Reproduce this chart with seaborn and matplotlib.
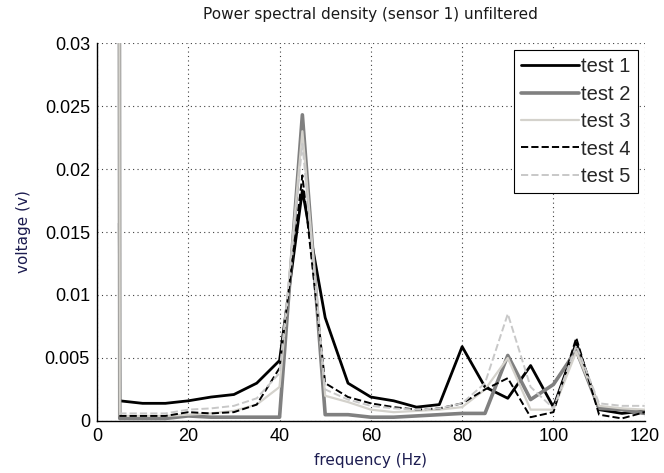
import numpy as np
import pandas as pd
import matplotlib
matplotlib.use("Agg")
import matplotlib.pyplot as plt
import seaborn as sns

# frequency bins (first bin is the DC spike just left of 5 Hz)
freq = [4.9, 5, 10, 15, 20, 25, 30, 35, 40, 45, 50, 55, 60,
        65, 70, 75, 80, 85, 90, 95, 100, 105, 110, 115, 120]

test1 = [0.0157, 0.0016, 0.0014, 0.0014, 0.0016, 0.0019, 0.0021, 0.0030, 0.0048, 0.0183, 0.0082, 0.0030, 0.0019,
         0.0016, 0.0011, 0.0013, 0.0059, 0.0027, 0.0018, 0.0044, 0.0011, 0.0062, 0.0009, 0.0006, 0.0008]
test2 = [0.0400, 0.0002, 0.0002, 0.0002, 0.0004, 0.0003, 0.0003, 0.0003, 0.0003, 0.0243, 0.0005, 0.0005, 0.0003,
         0.0003, 0.0004, 0.0005, 0.0006, 0.0006, 0.0052, 0.0017, 0.0029, 0.0056, 0.0010, 0.0009, 0.0006]
test3 = [0.0400, 0.0004, 0.0004, 0.0004, 0.0005, 0.0006, 0.0008, 0.0013, 0.0027, 0.0230, 0.0020, 0.0015, 0.0009,
         0.0007, 0.0008, 0.0009, 0.0011, 0.0025, 0.0050, 0.0009, 0.0009, 0.0055, 0.0012, 0.0010, 0.0009]
test4 = [0.0004, 0.0004, 0.0004, 0.0004, 0.0007, 0.0006, 0.0007, 0.0013, 0.0042, 0.0195, 0.0030, 0.0019, 0.0014,
         0.0011, 0.0009, 0.0010, 0.0014, 0.0025, 0.0034, 0.0003, 0.0007, 0.0066, 0.0005, 0.0002, 0.0007]
test5 = [0.0006, 0.0006, 0.0006, 0.0006, 0.0009, 0.0010, 0.0012, 0.0018, 0.0038, 0.0220, 0.0025, 0.0017, 0.0012,
         0.0010, 0.0009, 0.0010, 0.0014, 0.0030, 0.0085, 0.0027, 0.0010, 0.0060, 0.0014, 0.0012, 0.0012]

names = ["test 1", "test 2", "test 3", "test 4", "test 5"]
series = [test1, test2, test3, test4, test5]
colors = ["#000000", "#808080", "#d4d2cc", "#000000", "#c8c8c8"]
styles = ["-", "-", "-", "--", "--"]
widths = [2.0, 2.6, 1.6, 1.4, 1.4]

sns.set_style("white")
plt.rcParams['font.family'] = ['Liberation Sans', 'DejaVu Sans']

fig, ax = plt.subplots(figsize=(6.64, 4.73), dpi=100)
fig.subplots_adjust(left=0.146, right=0.971, bottom=0.110, top=0.909)

for name, vals, c, ls, lw in zip(names, series, colors, styles, widths):
    df = pd.DataFrame({"freq": freq, "v": vals})
    sns.lineplot(data=df, x="freq", y="v", ax=ax, color=c, linestyle=ls,
                 linewidth=lw, label=name, estimator=None, sort=False)

ax.set_xlim(0, 120)
ax.set_ylim(0, 0.03)
ax.set_xticks([0, 20, 40, 60, 80, 100, 120])
ax.set_yticks([0, 0.005, 0.01, 0.015, 0.02, 0.025, 0.03])
ax.set_yticklabels(["0", "0.005", "0.01", "0.015", "0.02", "0.025", "0.03"])
ax.tick_params(direction="in", length=4, labelsize=13, colors="black", pad=5)
ax.grid(True, linestyle=(0, (1, 3)), color="#404040", linewidth=0.8)

for s in ["top", "right"]:
    ax.spines[s].set_visible(False)
for s in ["left", "bottom"]:
    ax.spines[s].set_color("black")
    ax.spines[s].set_linewidth(1.0)

ax.set_xlabel("frequency (Hz)", fontsize=11, color="#1c1c50", family=["DejaVu Sans"], labelpad=6)
ax.set_ylabel("voltage (v)", fontsize=11, color="#1c1c50", family=["DejaVu Sans"], labelpad=10)
ax.set_title("Power spectral density (sensor 1) unfiltered", fontsize=11,
             family=["DejaVu Sans"], color="#1a1a1a", pad=17)

leg = ax.legend(loc="upper right", fontsize=14.5, handlelength=2.9, handletextpad=0.1,
                labelspacing=0.42, borderpad=0.35, borderaxespad=0.35,
                frameon=True, fancybox=False, framealpha=1)
leg.get_frame().set_edgecolor("black")
leg.get_frame().set_linewidth(0.8)

fig.savefig("out.png", dpi=100)
